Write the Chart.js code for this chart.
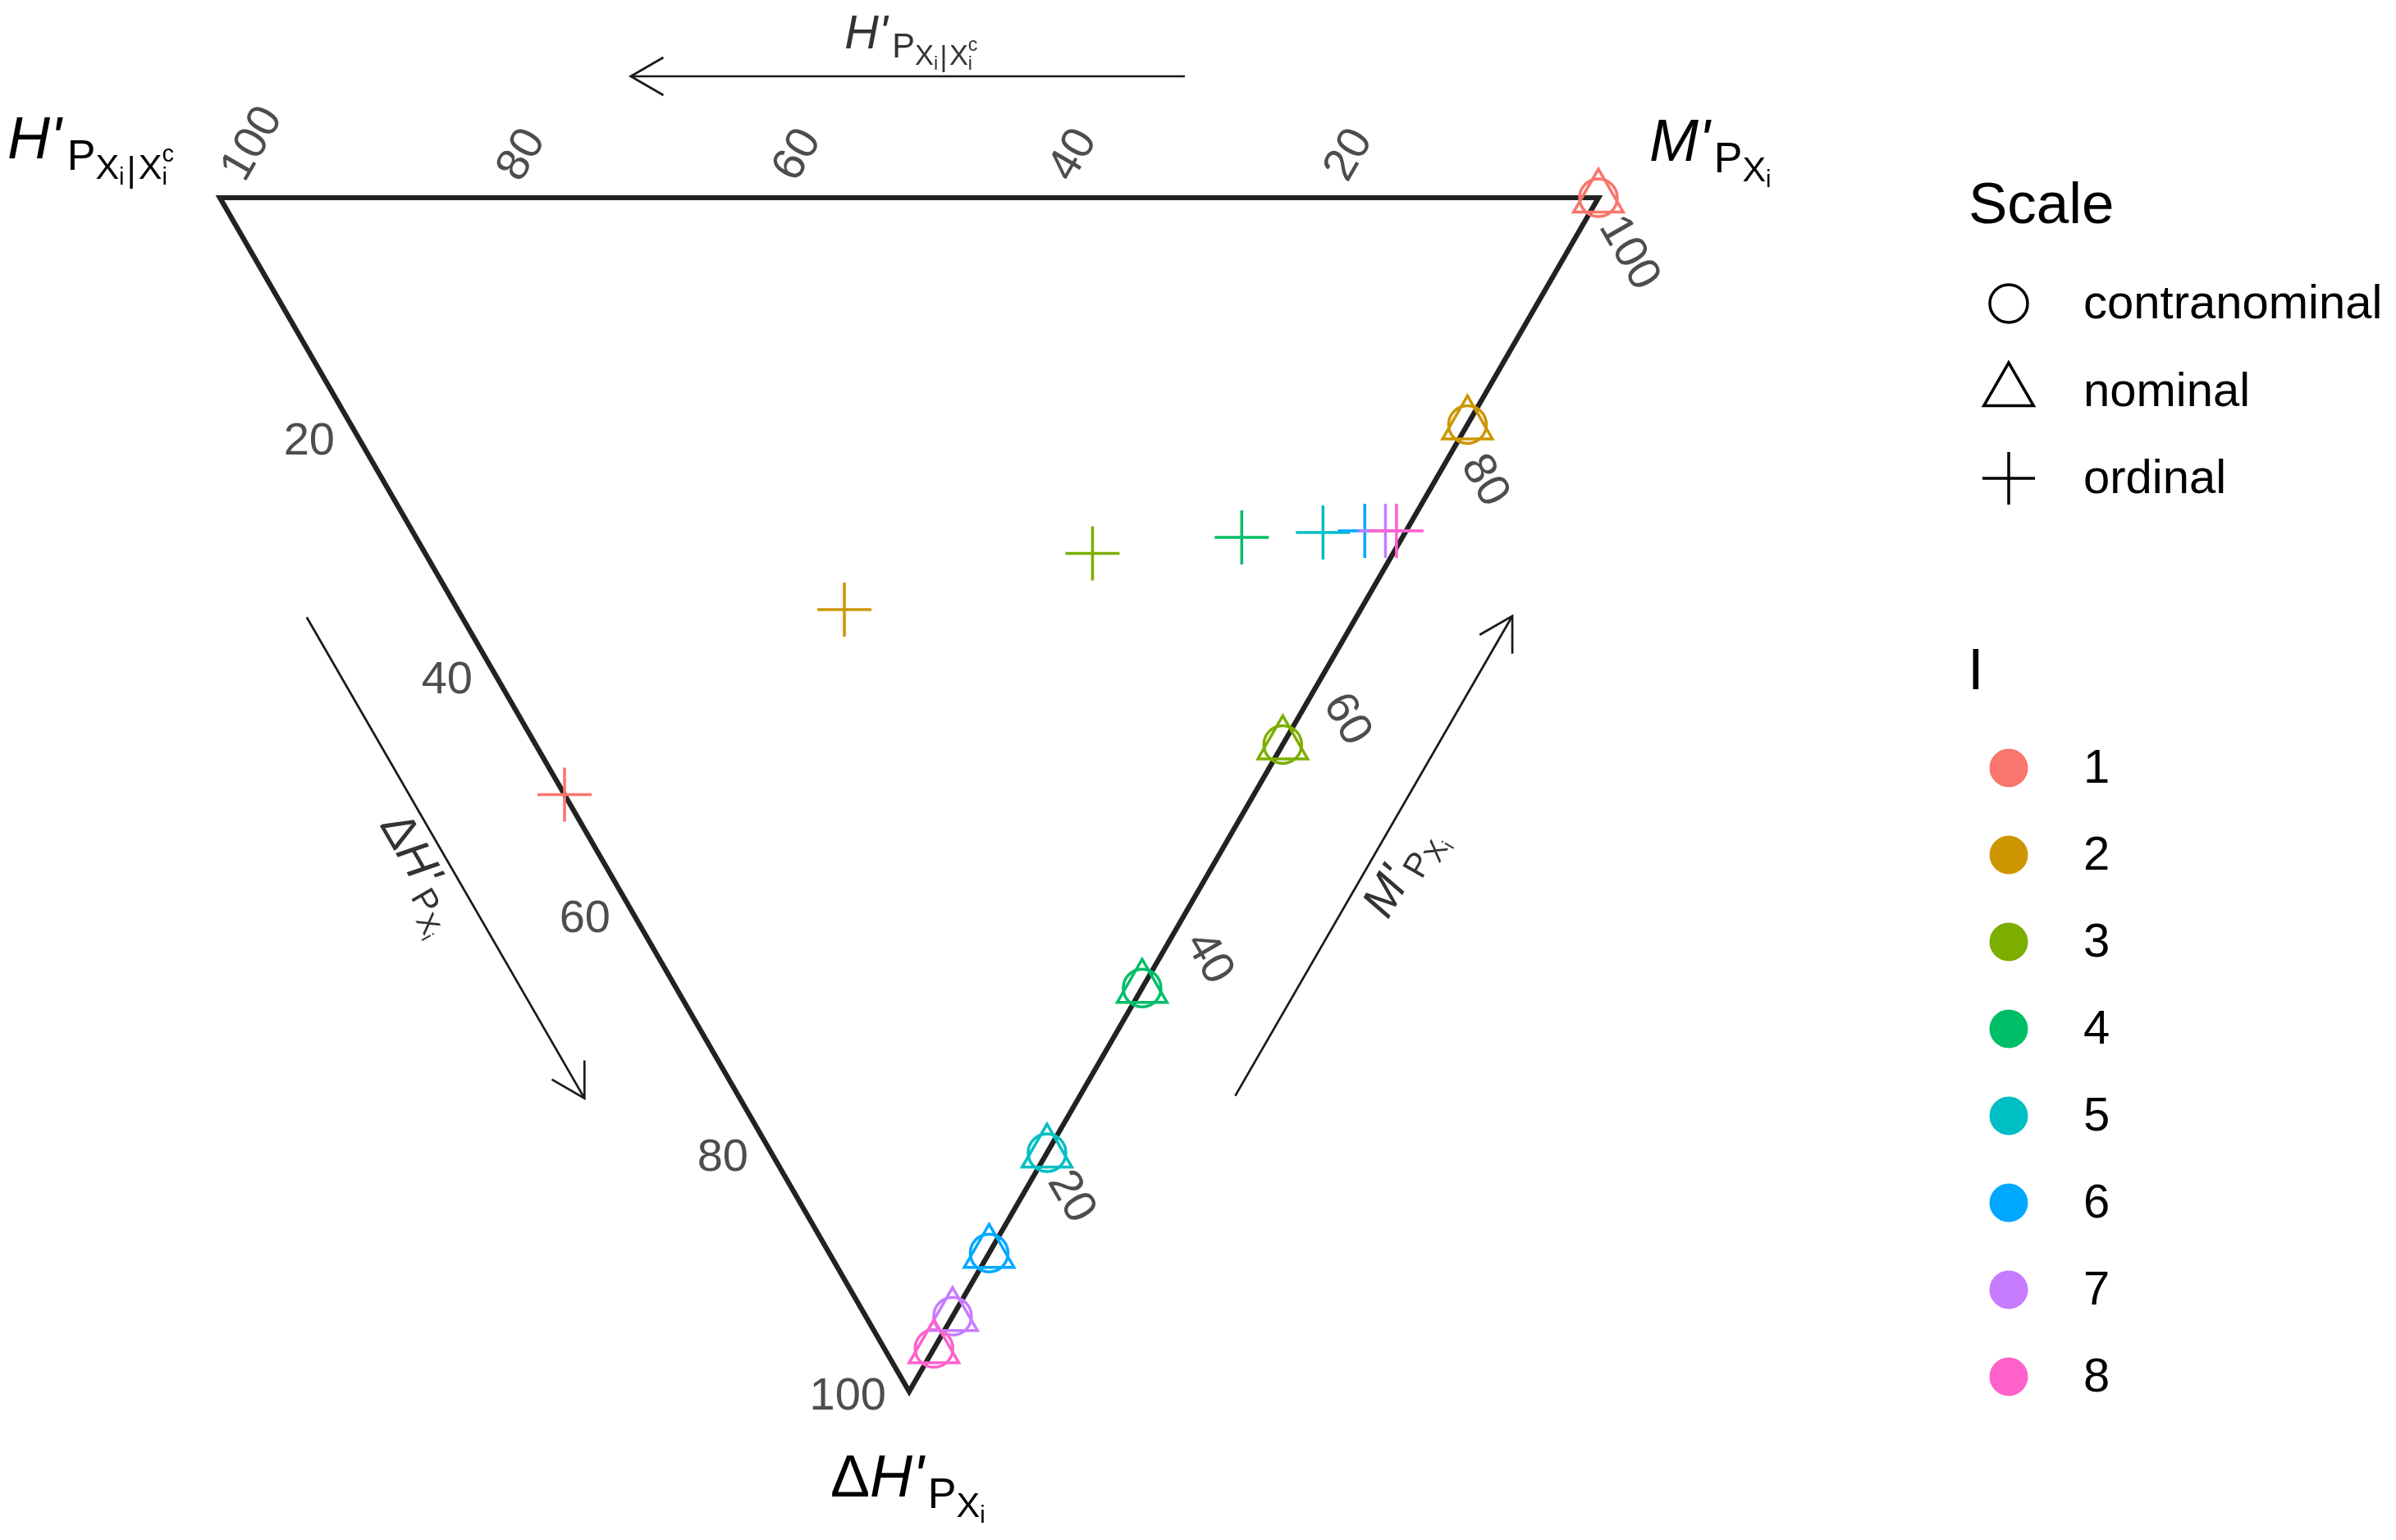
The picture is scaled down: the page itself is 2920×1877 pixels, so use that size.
<!DOCTYPE html>
<html>
<head>
<meta charset="utf-8">
<script src="https://cdn.jsdelivr.net/npm/chart.js@4.4.1/dist/chart.umd.min.js"></script>
<style>
html,body{margin:0;padding:0;background:#ffffff;}
#wrap{width:2920px;height:1877px;position:relative;}
</style>
</head>
<body>
<div id="wrap"><canvas id="c" width="2920" height="1877"></canvas></div>
<script>
// ---------------- data ----------------
const levels = ['1','2','3','4','5','6','7','8'];
const levelColors = ['#F8766D','#CD9600','#7CAE00','#00BE67','#00BFC4','#00A9FF','#C77CFF','#FF61CC'];
const scaleTypes = ['contranominal','nominal','ordinal'];

// ternary components in percent: H' (P Xi|Xi^c), M' (P Xi), ΔH' (P Xi)
const contraH = [0, 0, 0, 0, 0, 0, 0, 0];
const contraM = [100, 81.0, 54.2, 33.8, 20.0, 11.6, 6.3, 3.6];
const contraD = [0, 19.0, 45.8, 66.2, 80.0, 88.4, 93.7, 96.4];

const nomH = [0, 0, 0, 0, 0, 0, 0, 0];
const nomM = [100, 81.0, 54.2, 33.8, 20.0, 11.6, 6.3, 3.6];
const nomD = [0, 19.0, 45.8, 66.2, 80.0, 88.4, 93.7, 96.4];

const ordH = [50, 37.45, 21.8, 11.65, 5.96, 3.0, 1.5, 0.7];
const ordM = [0, 28.05, 48.4, 59.9, 66.0, 69.1, 70.6, 71.4];
const ordD = [50, 34.5, 29.8, 28.45, 28.04, 27.9, 27.9, 27.9];

const ticksTop = [100, 80, 60, 40, 20];   // H'
const ticksLeft = [20, 40, 60, 80, 100];  // ΔH'
const ticksRight = [20, 40, 60, 80, 100]; // M'

// ---------------- helpers ----------------
const SQ3 = Math.sqrt(3) / 2;
function tern(H, M, D) {
  const s = H + M + D;
  return { x: (M + D / 2) / s * 100, y: D / s * 100 * SQ3 };
}
function build(Hs, Ms, Ds) {
  return Hs.map((h, i) => tern(h, Ms[i], Ds[i]));
}
const FONT = '"Liberation Sans", Arial, Helvetica, sans-serif';

function partW(ctx, p) {
  ctx.font = (p.it ? 'italic ' : '') + p.s + 'px ' + FONT;
  return ctx.measureText(p.t).width + (p.kern || 0);
}
function richWidth(ctx, parts) {
  let w = 0, pend = 0;
  parts.forEach(p => {
    const pw = partW(ctx, p);
    if (p.stack) { pend = Math.max(pend, pw); }
    else { w += Math.max(pw, pend); pend = 0; }
  });
  return w + pend;
}
function drawRich(ctx, parts, x, y, center) {
  let cx = center ? x - richWidth(ctx, parts) / 2 : x;
  let pend = 0;
  ctx.textAlign = 'left';
  ctx.textBaseline = 'alphabetic';
  parts.forEach(p => {
    const pw = partW(ctx, p);
    ctx.font = (p.it ? 'italic ' : '') + p.s + 'px ' + FONT;
    ctx.fillText(p.t, cx + (p.pre || 0), y + p.dy);
    if (p.stack) { pend = Math.max(pend, pw); }
    else { cx += Math.max(pw, pend); pend = 0; }
  });
}
function labelH(k) {
  return [
    {t:'H', s:72*k, it:true, dy:0},
    {t:'\'', s:72*k, it:true, dy:0, kern:7*k},
    {t:'P', s:52*k, dy:14*k},
    {t:'X', s:43*k, dy:25*k},
    {t:'i', s:29*k, dy:32*k, kern:3*k},
    {t:'|', s:43*k, dy:28*k, kern:3*k},
    {t:'X', s:43*k, dy:25*k},
    {t:'c', s:29*k, dy:4*k, stack:true},
    {t:'i', s:29*k, dy:32*k}
  ];
}
function labelM(k) {
  return [
    {t:'M', s:72*k, it:true, dy:0},
    {t:'\'', s:72*k, it:true, dy:0, kern:5*k},
    {t:'P', s:52*k, dy:14*k},
    {t:'X', s:43*k, dy:25*k},
    {t:'i', s:29*k, dy:32*k}
  ];
}
function labelD(k) {
  return [
    {t:'\u0394', s:72*k, dy:0},
    {t:'H', s:72*k, it:true, dy:0},
    {t:'\'', s:72*k, it:true, dy:0, kern:5*k},
    {t:'P', s:52*k, dy:14*k},
    {t:'X', s:43*k, dy:25*k},
    {t:'i', s:29*k, dy:32*k}
  ];
}

// ---------------- frame plugin ----------------
const ternFrame = {
  id: 'ternFrame',
  beforeDatasetsDraw(chart) {
    const ctx = chart.ctx;
    const xs = chart.scales.x, ys = chart.scales.y;
    const P = (H, M, D) => { const t = tern(H, M, D); return [xs.getPixelForValue(t.x), ys.getPixelForValue(t.y)]; };
    const A = P(100, 0, 0), B = P(0, 100, 0), C = P(0, 0, 100);
    const unit = (p, q) => { const dx = q[0]-p[0], dy = q[1]-p[1], l = Math.hypot(dx, dy); return [dx/l, dy/l]; };

    ctx.save();
    // triangle border
    ctx.strokeStyle = '#222222';
    ctx.lineWidth = 6.2;
    ctx.lineJoin = 'miter';
    ctx.beginPath();
    ctx.moveTo(A[0], A[1]); ctx.lineTo(B[0], B[1]); ctx.lineTo(C[0], C[1]); ctx.closePath();
    ctx.stroke();

    // tick labels
    ctx.fillStyle = '#4D4D4D';
    ctx.font = '56px ' + FONT;
    const dTop = unit(C, B);     // outward for H' labels
    const dRight = unit(A, C);   // outward for M' labels
    const angTop = Math.atan2(dTop[1], dTop[0]);
    const angRight = Math.atan2(dRight[1], dRight[0]);
    ticksTop.forEach(v => {
      const p = P(v, 100 - v, 0);
      ctx.save();
      ctx.translate(p[0] + dTop[0]*30, p[1] + dTop[1]*30);
      ctx.rotate(angTop);
      ctx.textAlign = 'left'; ctx.textBaseline = 'middle';
      ctx.fillText(String(v), 0, 2);
      ctx.restore();
    });
    ticksLeft.forEach(v => {
      const p = P(100 - v, 0, v);
      ctx.textAlign = 'right'; ctx.textBaseline = 'middle';
      ctx.fillText(String(v), p[0] - 28, p[1] + 7);
    });
    ticksRight.forEach(v => {
      const p = P(0, v, 100 - v);
      ctx.save();
      ctx.translate(p[0] + dRight[0]*30, p[1] + dRight[1]*30);
      ctx.rotate(angRight);
      ctx.textAlign = 'left'; ctx.textBaseline = 'middle';
      ctx.fillText(String(v), 0, 2);
      ctx.restore();
    });

    // arrows
    const arrow = (p0, p1) => {
      ctx.strokeStyle = '#1a1a1a';
      ctx.lineWidth = 2.7;
      ctx.lineCap = 'butt';
      ctx.beginPath(); ctx.moveTo(p0[0], p0[1]); ctx.lineTo(p1[0], p1[1]); ctx.stroke();
      const ang = Math.atan2(p1[1]-p0[1], p1[0]-p0[0]);
      const L = 46, a = Math.PI / 6;
      ctx.beginPath();
      ctx.moveTo(p1[0] - L*Math.cos(ang - a), p1[1] - L*Math.sin(ang - a));
      ctx.lineTo(p1[0], p1[1]);
      ctx.lineTo(p1[0] - L*Math.cos(ang + a), p1[1] - L*Math.sin(ang + a));
      ctx.stroke();
    };
    const along = (p, q, f) => [p[0] + (q[0]-p[0])*f, p[1] + (q[1]-p[1])*f];
    const off = (p, n, d) => [p[0] + n[0]*d, p[1] + n[1]*d];
    // top arrow (H')
    const nTop = [0, -1];
    const t0 = off(along(A, B, 0.70), nTop, 148), t1 = off(along(A, B, 0.298), nTop, 148);
    arrow(t0, t1);
    // left arrow (ΔH')
    const eL = unit(A, C), nL = [eL[1], -eL[0]];
    const nLeft = (nL[0] < 0) ? nL : [-nL[0], -nL[1]];
    const l0 = off(along(A, C, 0.295), nLeft, 164), l1 = off(along(A, C, 0.698), nLeft, 164);
    arrow(l0, l1);
    // right arrow (M')
    const eR = unit(C, B), nR = [-eR[1], eR[0]];
    const nRight = (nR[0] > 0) ? nR : [-nR[0], -nR[1]];
    const r0 = off(along(C, B, 0.304), nRight, 164), r1 = off(along(C, B, 0.706), nRight, 164);
    arrow(r0, r1);

    // arrow labels
    ctx.fillStyle = '#333333';
    const k = 0.8;
    const tm = along(t0, t1, 0.5);
    drawRich(ctx, labelH(k), tm[0] + 4, tm[1] - 34, true);
    const lm = off(along(l0, l1, 0.5), nLeft, 44);
    ctx.save(); ctx.translate(lm[0], lm[1]); ctx.rotate(Math.atan2(eL[1], eL[0]));
    drawRich(ctx, labelD(k), 0, 6, true);
    ctx.restore();
    const rm = off(along(r0, r1, 0.5), nRight, 36);
    ctx.save(); ctx.translate(rm[0], rm[1]); ctx.rotate(Math.atan2(eR[1], eR[0]));
    drawRich(ctx, labelM(k), 0, 18, true);
    ctx.restore();

    // vertex titles
    ctx.fillStyle = '#000000';
    drawRich(ctx, labelH(1), A[0] - 259, A[1] - 48, false);
    drawRich(ctx, labelM(1), B[0] + 62, B[1] - 45, false);
    drawRich(ctx, labelD(1), C[0] - 96, C[1] + 128, false);
    ctx.restore();
  },
  afterDraw(chart) {
    const ctx = chart.ctx;
    ctx.save();
    const lx = 2448, tx = 2539;
    ctx.fillStyle = '#000000';
    ctx.textAlign = 'left'; ctx.textBaseline = 'alphabetic';
    ctx.font = '71px ' + FONT;
    ctx.fillText('Scale', 2399, 272);
    ctx.fillText('I', 2398, 840);
    // shape legend
    const shapeY = [370, 477, 583];
    ctx.strokeStyle = '#000000';
    ctx.lineWidth = 3.5;
    shapeY.forEach((y, i) => {
      if (i === 0) { ctx.beginPath(); ctx.arc(lx, y, 23, 0, Math.PI*2); ctx.stroke(); }
      if (i === 1) {
        const r = 35;
        ctx.beginPath();
        ctx.moveTo(lx, y - r);
        ctx.lineTo(lx + r*Math.sin(2*Math.PI/3), y - r*Math.cos(2*Math.PI/3));
        ctx.lineTo(lx + r*Math.sin(4*Math.PI/3), y - r*Math.cos(4*Math.PI/3));
        ctx.closePath(); ctx.stroke();
      }
      if (i === 2) {
        ctx.beginPath();
        ctx.moveTo(lx - 32, y); ctx.lineTo(lx + 32, y);
        ctx.moveTo(lx, y - 32); ctx.lineTo(lx, y + 32);
        ctx.stroke();
      }
      ctx.font = '58px ' + FONT;
      ctx.textBaseline = 'middle';
      ctx.fillText(scaleTypes[i], tx, y + 2);
    });
    // colour legend
    const colY0 = 936, colStep = 106;
    levels.forEach((lv, i) => {
      const y = colY0 + i * colStep;
      ctx.fillStyle = levelColors[i];
      ctx.beginPath(); ctx.arc(lx, y, 23.5, 0, Math.PI*2); ctx.fill();
      ctx.fillStyle = '#000000';
      ctx.font = '58px ' + FONT;
      ctx.textBaseline = 'middle';
      ctx.fillText(lv, tx, y + 2);
    });
    ctx.restore();
  }
};

// ---------------- chart ----------------
const mk = (label, pts, style, radius) => ({
  label: label,
  data: pts,
  pointStyle: style,
  pointRadius: radius,
  pointHoverRadius: radius,
  pointBorderWidth: 3.5,
  pointBackgroundColor: 'rgba(0,0,0,0)',
  pointBorderColor: levelColors,
  showLine: false,
  clip: false
});

new Chart(document.getElementById('c'), {
  type: 'scatter',
  data: {
    datasets: [
      mk(scaleTypes[2], build(ordH, ordM, ordD), 'cross', 33),
      mk(scaleTypes[1], build(nomH, nomM, nomD), 'triangle', 35),
      mk(scaleTypes[0], build(contraH, contraM, contraD), 'circle', 23)
    ]
  },
  options: {
    responsive: false,
    animation: false,
    events: [],
    devicePixelRatio: 1,
    layout: { padding: { left: 268, top: 241, right: 972, bottom: 181 } },
    scales: {
      x: { type: 'linear', min: 0, max: 100, display: false },
      y: { type: 'linear', min: 0, max: 100 * SQ3, reverse: true, display: false }
    },
    plugins: { legend: { display: false }, tooltip: { enabled: false } }
  },
  plugins: [ternFrame]
});
</script>
</body>
</html>
